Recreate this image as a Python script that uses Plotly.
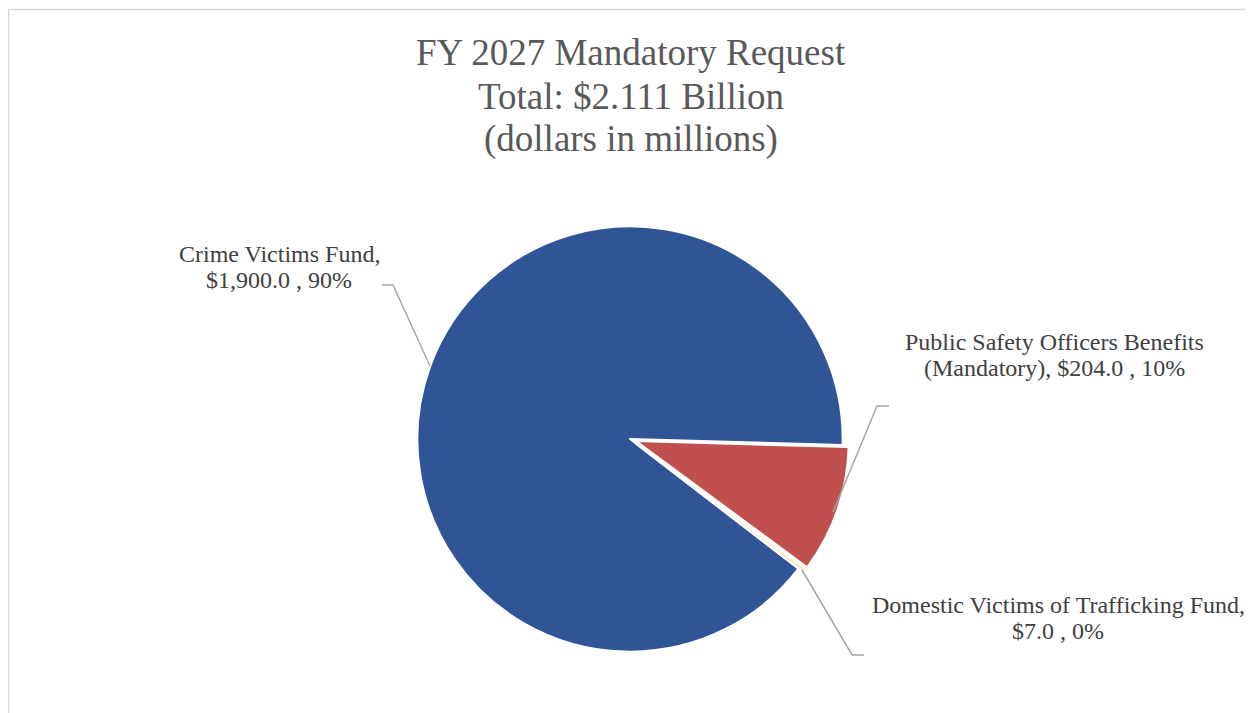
import plotly.graph_objects as go

W, H = 1253, 713
OFF = 8  # page body margin

# ---- data ----
categories = ["Crime Victims Fund",
              "Public Safety Officers Benefits (Mandatory)",
              "Domestic Victims of Trafficking Fund"]
values = [1900.0, 204.0, 7.0]
label_line1 = ["Crime Victims Fund,",
               "Public Safety Officers Benefits",
               "Domestic Victims of Trafficking Fund,"]
label_line2_prefix = ["", "(Mandatory), ", ""]
colors = ["#2F5597", "#C0504D", "#FAE7BC"]
pulls = [0, 0.03, 0.03]

title_lines = ["FY 2027 Mandatory Request",
               "Total: $2.111 Billion",
               "(dollars in millions)"]

total = sum(values)
pcts = [round(v / total * 100) for v in values]


def px(x):
    return (x - OFF) / W


def py(y):
    return 1 - (y - OFF) / H


fig = go.Figure()
fig.add_trace(go.Pie(
    labels=categories,
    values=values,
    sort=False,
    direction="clockwise",
    rotation=127.6,
    marker=dict(colors=colors, line=dict(color="white", width=2)),
    pull=pulls,
    textinfo="none",
    hoverinfo="label+value+percent",
    showlegend=False,
    domain=dict(x=[px(411.0), px(849.0)], y=[py(658.0), py(220.0)]),
))

# label annotations (two lines each)
label_x = [279, 1054, 1058]
label_y = [(254, 280), (342, 368), (605, 631)]
for i in range(len(values)):
    lines = [label_line1[i],
             f"{label_line2_prefix[i]}${values[i]:,.1f} , {pcts[i]}%"]
    for j, line in enumerate(lines):
        fig.add_annotation(
            x=px(label_x[i]), y=py(label_y[i][j]),
            xref="paper", yref="paper", text=line, showarrow=False,
            xanchor="center", yanchor="middle", align="center",
            font=dict(family="Liberation Serif", size=24, color="#404040"),
        )

# title lines
title_y = [52, 96, 139]
for line, yy in zip(title_lines, title_y):
    fig.add_annotation(
        x=px(630.5), y=py(yy), xref="paper", yref="paper", text=line,
        showarrow=False, xanchor="center", yanchor="middle",
        font=dict(family="Liberation Serif", size=37, color="#595959"),
    )

# leader lines
leaders = [
    [(382, 285), (393, 285), (430, 366)],
    [(889, 406), (877, 406), (833, 512)],
    [(802, 570), (852, 655), (864, 655)],
]
shapes = []
for pts in leaders:
    path = "M " + " L ".join(f"{px(x)},{py(y)}" for x, y in pts)
    shapes.append(dict(type="path", path=path, xref="paper", yref="paper",
                       line=dict(color="#A6A6A6", width=1.5)))
# chart border
shapes.append(dict(type="rect", xref="paper", yref="paper",
                   x0=0.0005, y0=-0.05, x1=1.05, y1=py(9.5),
                   line=dict(color="#D9D9D9", width=1.5)))

fig.update_layout(
    width=W, height=H,
    margin=dict(l=0, r=0, t=0, b=0),
    paper_bgcolor="white",
    plot_bgcolor="white",
    shapes=shapes,
)

fig.write_html("out.html")
